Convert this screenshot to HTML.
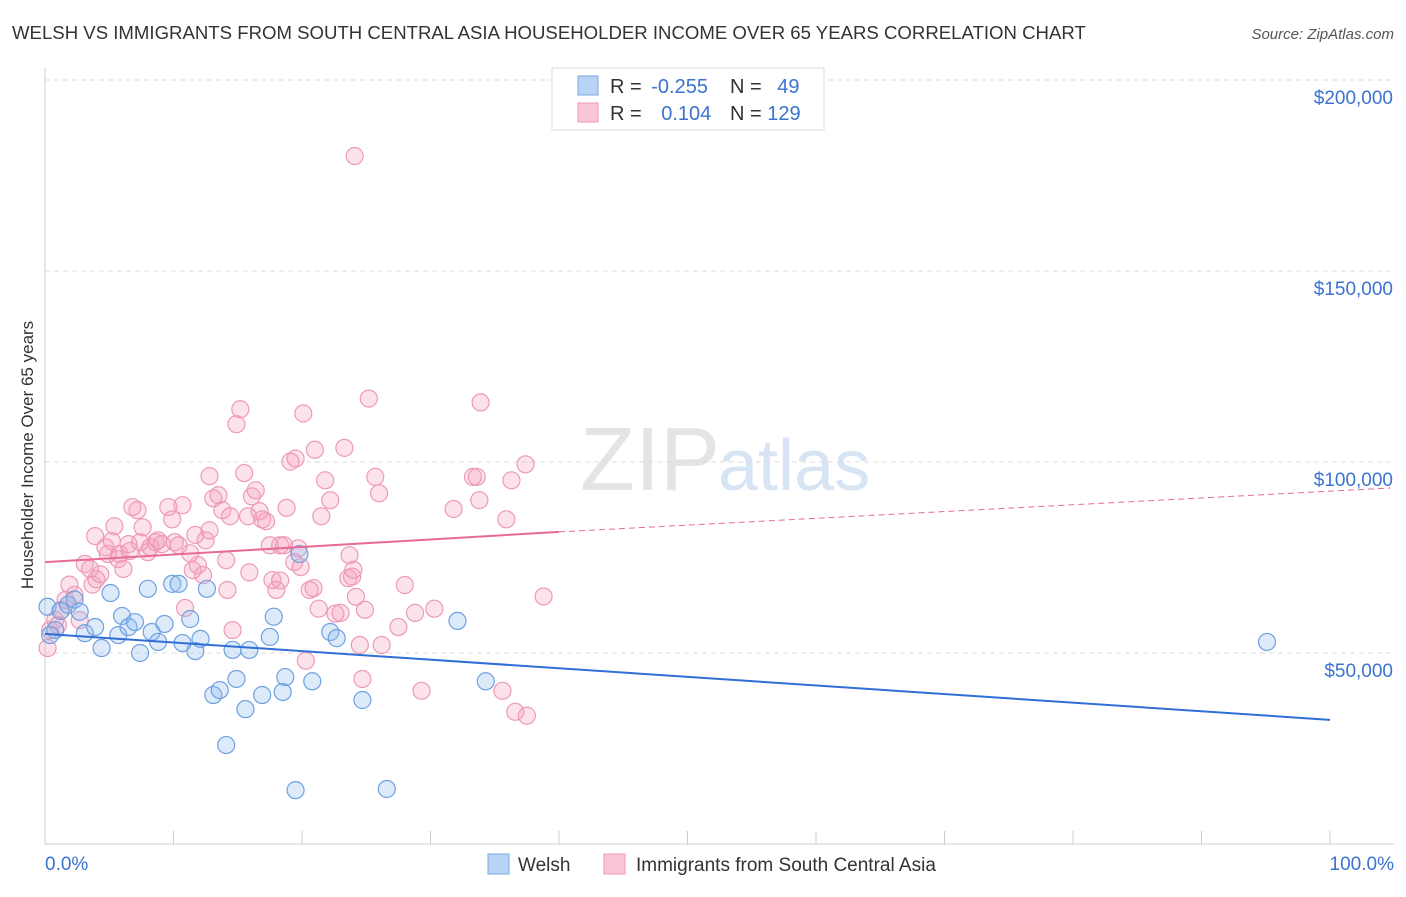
<!DOCTYPE html>
<html><head><meta charset="utf-8"><style>
body{margin:0;background:#fff;font-family:"Liberation Sans",sans-serif;}
svg text{font-family:"Liberation Sans",sans-serif;}
</style></head><body>
<svg id="chart" width="1406" height="892" xmlns="http://www.w3.org/2000/svg">
<text x="12" y="39" font-size="18.6" fill="#333">WELSH VS IMMIGRANTS FROM SOUTH CENTRAL ASIA HOUSEHOLDER INCOME OVER 65 YEARS CORRELATION CHART</text>
<text x="1394" y="39" font-size="15" fill="#555" font-style="italic" text-anchor="end">Source: ZipAtlas.com</text>
<text x="720" y="490" font-size="90" fill="#e4e4e4" text-anchor="end" font-family="Liberation Serif">ZIP</text>
<text x="718" y="490" font-size="72" fill="#d6e4f4">atlas</text>
<text transform="translate(33,455) rotate(-90)" font-size="17" fill="#333" text-anchor="middle">Householder Income Over 65 years</text>
<g id="grid"></g><g id="pts"></g><g id="lines"></g>
<g>
<rect x="552" y="68" width="272" height="62" fill="#fff" stroke="#ddd"/>
<rect x="578" y="76" width="20" height="19" fill="#b9d3f5" stroke="#7aaae0"/>
<rect x="578" y="103" width="20" height="19" fill="#f9c6d5" stroke="#ee9ab5"/>
<text x="610" y="93" font-size="20" fill="#333">R = <tspan fill="#3a73d0" dx="4">-0.255</tspan></text>
<text x="730" y="93" font-size="20" fill="#333">N = <tspan fill="#3a73d0" dx="10">49</tspan></text>
<text x="610" y="120" font-size="20" fill="#333">R = <tspan fill="#3a73d0" dx="14">0.104</tspan></text>
<text x="730" y="120" font-size="20" fill="#333">N = <tspan fill="#3a73d0">129</tspan></text>
</g>
<g>
<rect x="488" y="854" width="21" height="20" fill="#b9d3f5" stroke="#7aaae0"/>
<text x="518" y="871" font-size="19" fill="#333">Welsh</text>
<rect x="604" y="854" width="21" height="20" fill="#f9c6d5" stroke="#ee9ab5"/>
<text x="636" y="871" font-size="19" fill="#333">Immigrants from South Central Asia</text>
</g>
</svg>
<script>
const yTicks=[50000,100000,150000,200000];
const yTickLabels=["$50,000","$100,000","$150,000","$200,000"];
const xTickLabels=["0.0%","100.0%"];
const blueX=[0.2,0.8,1.2,1.8,2.3,2.7,3.1,3.9,4.4,5.1,5.7,6.0,6.5,7.0,7.4,8.0,8.3,8.8,9.3,9.9,10.4,10.7,11.3,11.7,12.1,12.6,13.1,13.6,14.1,14.6,14.9,15.6,15.9,16.9,17.5,17.8,18.5,18.7,19.5,19.8,20.8,22.2,22.7,24.7,26.6,32.1,34.3,95.1,0.4];
const blueY=[62100,56000,61000,62600,64000,60800,55200,56800,51300,65700,54700,59700,56800,58100,50000,66800,55500,52900,57600,68100,68100,52600,58900,50500,53700,66800,39000,40300,25900,50800,43200,35300,50800,39000,54200,59500,39800,43700,14100,75900,42600,55500,53900,37700,14400,58400,42600,52900,54700];
const pinkX=[0.2,0.4,0.8,1.0,1.3,1.6,1.9,2.3,2.7,3.1,3.5,3.7,4.0,4.3,3.9,4.7,4.9,5.2,5.4,5.7,5.8,6.1,6.5,6.6,6.8,7.2,7.4,7.6,8.0,8.2,8.6,8.8,9.1,9.6,9.9,10.1,10.4,10.7,10.9,11.3,11.5,11.7,11.9,12.3,12.5,12.8,13.1,13.5,13.8,14.1,14.2,14.4,14.6,14.9,15.2,15.5,15.8,16.1,16.4,16.7,16.9,17.2,17.5,17.7,18.0,18.3,18.6,18.8,19.1,19.4,19.5,19.7,19.9,20.1,20.3,20.6,20.9,21.0,21.3,21.5,21.8,22.2,22.6,23.0,23.3,23.6,23.7,23.9,24.1,24.2,24.5,24.7,24.9,25.2,25.7,26.0,26.2,27.5,28.0,28.8,29.3,30.3,31.8,33.3,33.8,33.9,33.6,35.6,35.9,36.3,36.6,37.5,37.4,38.8,24.0,15.9,12.8,18.3];
const pinkY=[51300,56000,58600,57300,61300,63900,67900,65200,58600,73300,72000,67900,69300,70600,80600,77700,75900,79300,83200,74600,75900,72000,78500,76700,88200,87400,79000,82900,76400,77700,79000,79500,78500,88200,85000,79000,78200,88700,61800,76100,71700,80900,73000,70400,79500,82100,90500,91300,87400,74300,66500,85800,56000,109900,113800,97100,85800,91000,92600,87100,85000,84500,78200,69100,66500,78200,78200,88000,100100,73800,100900,77400,72500,112700,48000,66500,67000,103200,61600,85800,95200,90000,60300,60500,103700,69600,75600,70000,180100,64700,52100,43200,61300,116600,96100,91800,52100,56800,67800,60500,40100,61600,87700,96100,90000,115600,96100,40100,85000,95200,34600,33600,99400,64800,71800,71100,96300,69000,99800];
const X=v=>45+v*12.85, Y=v=>844-v/50000*191;
const NS="http://www.w3.org/2000/svg";
function mk(t,a,p){const e=document.createElementNS(NS,t);for(const k in a)e.setAttribute(k,a[k]);p.appendChild(e);return e;}
const grid=document.getElementById('grid');
yTicks.forEach((v,i)=>{
 const l=mk('line',{x1:45,x2:1394,y1:Y(v),y2:Y(v),stroke:'#ddd','stroke-dasharray':'5,4'},grid);
 
 
 const t=mk('text',{x:1393,y:Y(v)+24,'font-size':19,fill:'#3a73d0','text-anchor':'end'},grid);t.textContent=yTickLabels[i];
 
 
});
mk('line',{x1:45,x2:45,y1:68,y2:844,stroke:'#ccc'},grid);
const ax=mk('line',{x1:45,x2:1394,y1:844,y2:844,stroke:'#ccc'},grid);


for(let i=0;i<=10;i++){mk('line',{x1:X(i*10),x2:X(i*10),y1:831,y2:844,stroke:'#ccc'},grid);}
[[0,'start',45],[1,'end',1394]].forEach(([i,a,x])=>{const t=mk('text',{x:x,y:870,'font-size':19,fill:'#3a73d0','text-anchor':a},grid);t.textContent=xTickLabels[i];
 
 });
const pts=document.getElementById('pts');
pinkX.forEach((x,i)=>{const c=mk('circle',{cx:X(x),cy:Y(pinkY[i]),r:8.5,fill:'rgba(244,160,188,0.3)',stroke:'#ee9ab5','stroke-width':1.2},pts);
 
 });
blueX.forEach((x,i)=>{const c=mk('circle',{cx:X(x),cy:Y(blueY[i]),r:8.5,fill:'rgba(140,185,240,0.3)',stroke:'#6fa0e0','stroke-width':1.2},pts);
 
 });
const lines=document.getElementById('lines');
const bl=mk('line',{x1:X(0),y1:Y(55000),x2:X(100),y2:Y(32500),stroke:'#2f6fd6','stroke-width':2},lines);


const pl=mk('line',{x1:X(0),y1:Y(73800),x2:X(40),y2:Y(81700),stroke:'#e86b94','stroke-width':2},lines);


const pd=mk('line',{x1:X(40),y1:Y(81700),x2:X(104.7),y2:Y(93200),stroke:'#e86b94','stroke-width':1,'stroke-dasharray':'6,4'},lines);


</script>
</body></html>
